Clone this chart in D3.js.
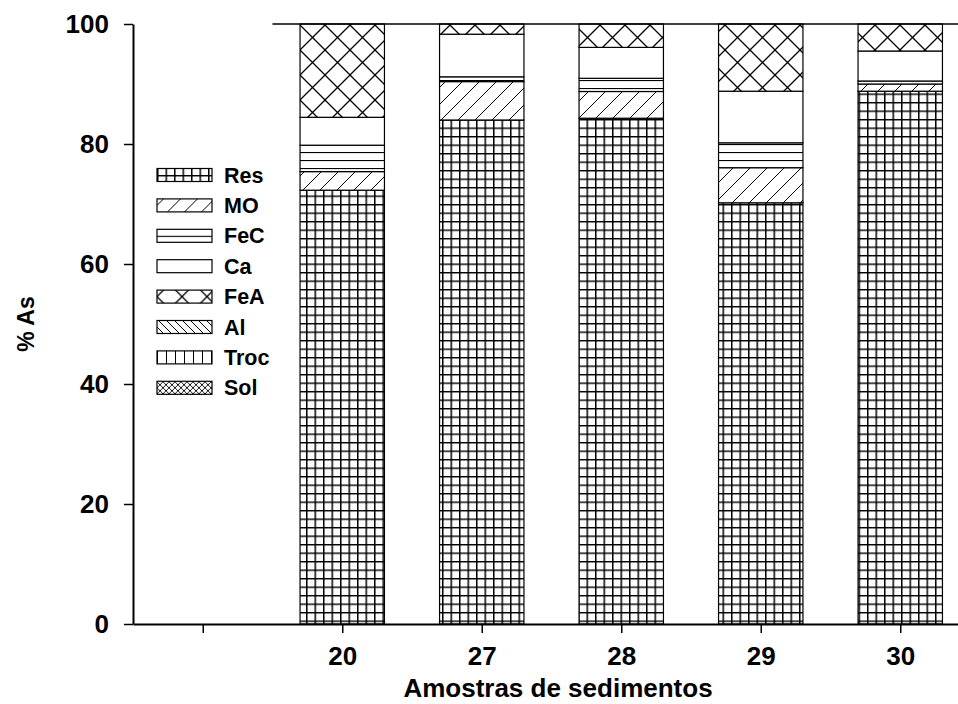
<!DOCTYPE html>
<html>
<head>
<meta charset="utf-8">
<script src="https://cdn.jsdelivr.net/npm/d3@7/dist/d3.min.js"></script>
<style>
  html, body { margin: 0; padding: 0; background: #fff; }
  svg { display: block; }
  text { font-family: Arial, "Liberation Sans", Helvetica, sans-serif; font-weight: bold; fill: #000; }
</style>
</head>
<body>
<svg id="chart" width="958" height="704"></svg>
<script>
// Sediment samples (first slot on the axis is left empty)
const categories = ["", "20", "27", "28", "29", "30"];

// Arsenic fractions, bottom of the stack first
const fractions = ["Res", "MO", "FeC", "Ca", "FeA", "Al", "Troc", "Sol"];

// % As in each fraction, per sample
const resValues  = [0, 72.3, 84.0, 84.3, 70.2, 88.8];
const moValues   = [0, 3.1, 6.4, 4.45, 5.85, 1.2];
const fecValues  = [0, 4.4, 0.8, 2.2, 4.15, 0.5];
const caValues   = [0, 4.65, 7.1, 5.15, 8.6, 5.0];
const feaValues  = [0, 15.55, 1.7, 3.9, 11.2, 4.5];
const alValues   = [0, 0, 0, 0, 0, 0];
const trocValues = [0, 0, 0, 0, 0, 0];
const solValues  = [0, 0, 0, 0, 0, 0];

const yTicks = [0, 20, 40, 60, 80, 100];

const seriesValues = {
  Res: resValues, MO: moValues, FeC: fecValues, Ca: caValues,
  FeA: feaValues, Al: alValues, Troc: trocValues, Sol: solValues
};

const rows = categories.map((c, i) => {
  const r = { sample: c };
  fractions.forEach(f => { r[f] = seriesValues[f][i]; });
  return r;
});

const svg = d3.select("#chart");
svg.append("rect").attr("width", 958).attr("height", 704).attr("fill", "#fff");

const plot = { left: 133, top: 24, bottom: 624, right: 970 };

const x = d3.scalePoint().domain(categories).range([plot.left, plot.right]).padding(0.5);
const barWidth = x.step() * 0.605;
const y = d3.scaleLinear().domain([0, 100]).range([plot.bottom, plot.top]);

// ---- hatch patterns, one per fraction ----
const defs = svg.append("defs");
function pattern(id, w, h, draw) {
  const p = defs.append("pattern").attr("id", id)
    .attr("patternUnits", "userSpaceOnUse").attr("width", w).attr("height", h);
  p.append("rect").attr("width", w).attr("height", h).attr("fill", "#fff");
  draw(p);
}
const ln = (p, d, sw) => p.append("path").attr("d", d).attr("stroke", "#000")
  .attr("stroke-width", sw || 1).attr("fill", "none");

pattern("pat-Res", 8.5, 8.5, p => { ln(p, "M0.75,0V8.5M0,0.75H8.5", 1.5); });
pattern("pat-MO", 17, 17, p => { ln(p, "M0,17L17,0M-4,4L4,-4M13,21L21,13", 1); });
pattern("pat-FeC", 8, 8, p => { ln(p, "M0,0.5H8", 1.2); });
pattern("pat-Ca", 8, 8, p => {});
pattern("pat-FeA", 25, 25, p => { ln(p, "M0,0L25,25M25,0L0,25", 1.3); });
pattern("pat-Al", 8, 8, p => { ln(p, "M0,0L8,8M-4,4L4,12M4,-4L12,4", 1); });
pattern("pat-Troc", 9, 9, p => { ln(p, "M0.5,0V9", 1); });
pattern("pat-Sol", 6, 6, p => { ln(p, "M0,0L6,6M6,0L0,6", 0.9); });

// ---- stacked bars ----
const stacked = d3.stack().keys(fractions)(rows);

const barG = svg.append("g");
stacked.forEach(layer => {
  barG.append("g").selectAll("rect")
    .data(layer.filter(d => d[1] - d[0] > 0))
    .join("rect")
    .attr("x", d => x(d.data.sample) - barWidth / 2)
    .attr("y", d => y(d[1]))
    .attr("width", barWidth)
    .attr("height", d => y(d[0]) - y(d[1]))
    .attr("fill", `url(#pat-${layer.key})`)
    .attr("stroke", "#000")
    .attr("stroke-width", 1.2);
});

// ---- axes ----
const yAxis = d3.axisLeft(y).tickValues(yTicks).tickFormat(d3.format("d"))
  .tickSize(9).tickSizeOuter(0).tickPadding(15);
const gy = svg.append("g").attr("transform", `translate(${plot.left},0)`).call(yAxis);
gy.selectAll("text").attr("font-size", 26).attr("font-family", "Arial, 'Liberation Sans', sans-serif").attr("font-weight", "bold");

const xAxis = d3.axisBottom(x).tickSize(9).tickSizeOuter(0).tickPadding(14);
const gx = svg.append("g").attr("transform", `translate(0,${plot.bottom})`).call(xAxis);
gx.selectAll("text").attr("font-size", 26).attr("font-family", "Arial, 'Liberation Sans', sans-serif").attr("font-weight", "bold");

[gy, gx].forEach(g => {
  g.select(".domain").attr("stroke", "#000").attr("stroke-width", 2);
  g.selectAll(".tick line").attr("stroke", "#000").attr("stroke-width", 1.5);
});

// top reference line at 100 %
svg.append("line")
  .attr("x1", x("20") - x.step() / 2).attr("x2", 958)
  .attr("y1", y(100)).attr("y2", y(100))
  .attr("stroke", "#000").attr("stroke-width", 1.5);

// ---- axis titles ----
svg.append("text")
  .attr("transform", `translate(34,${(plot.top + plot.bottom) / 2}) rotate(-90)`)
  .attr("text-anchor", "middle").attr("font-size", 23)
  .text("% As");

svg.append("text")
  .attr("x", 558).attr("y", 697)
  .attr("text-anchor", "middle").attr("font-size", 26)
  .text("Amostras de sedimentos");

// ---- legend ----
const legend = svg.append("g").attr("transform", "translate(157,175)");
const item = legend.selectAll("g").data(fractions).join("g")
  .attr("transform", (d, i) => `translate(0,${i * 30.4})`);
item.append("rect")
  .attr("x", 0).attr("y", -6.5).attr("width", 55).attr("height", 13)
  .attr("fill", d => `url(#pat-${d})`).attr("stroke", "#000").attr("stroke-width", 1.2);
item.append("text")
  .attr("x", 67).attr("y", 7.5).attr("font-size", 21.5)
  .text(d => d);
</script>
</body>
</html>
